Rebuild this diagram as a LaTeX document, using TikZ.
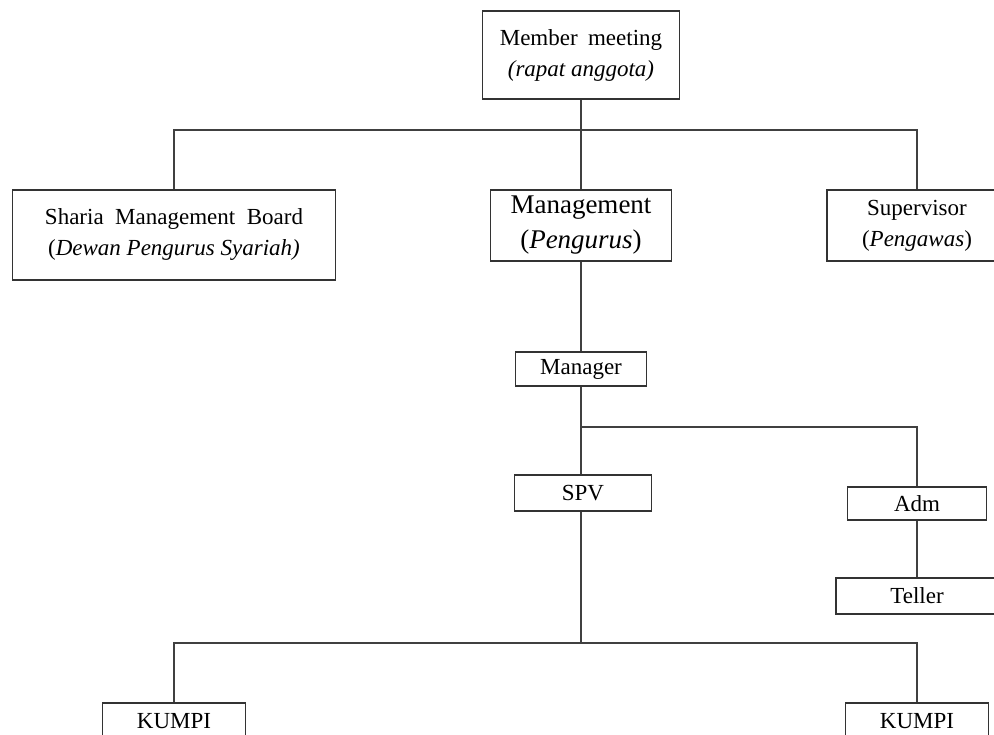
\documentclass[tikz,border=0pt]{standalone}
\usepackage{fontspec}
\setmainfont{Liberation Serif}

\begin{document}
\begin{tikzpicture}[
	x=1pt, y=-1pt,
	line width=1.1pt, draw=black!75,
	box/.style = {
		shape=rectangle, draw=black!80,
		align=center, inner sep=0pt,
		font=\fontsize{23}{31}\selectfont},
	bigbox/.style = {box,
		font=\fontsize{27}{35}\selectfont}]
	\useasboundingbox (0,0) rectangle (994,735);
	\clip (0,0) rectangle (994,735);
	% top level
	\node[box, minimum width=197pt, minimum height=88pt] (meeting) at (581,55)
		{Member\hspace{0.45em}meeting\\\textit{(rapat anggota)}};
	\node[box, minimum width=323pt, minimum height=90pt] (sharia) at (174,235)
		{Sharia\hspace{0.5em}Management\hspace{0.5em}Board\\(\textit{Dewan Pengurus Syariah)}};
	\node[bigbox, minimum width=181pt, minimum height=71pt] (mgmt) at (581,225.5)
		{Management\\(\textit{Pengurus})};
	\node[box, minimum width=180pt, minimum height=71pt] (superv) at (917,225.5)
		{Supervisor\\(\textit{Pengawas})};
	% operations
	\node[box, minimum width=131pt, minimum height=34pt] (manager) at (581,369) {Manager};
	\node[box, minimum width=137pt, minimum height=36pt] (spv) at (583,493) {SPV};
	\node[box, minimum width=139pt, minimum height=33pt] (adm) at (917,503.5) {Adm};
	\node[box, minimum width=162pt, minimum height=36pt] (teller) at (917,596) {Teller};
	\node[box, minimum width=143pt, minimum height=36pt] (kumpiA) at (174,721) {KUMPI};
	\node[box, minimum width=143pt, minimum height=36pt] (kumpiB) at (917,721) {KUMPI};
	% bus points
	\coordinate (topbus) at (581,130);
	\coordinate (admbus) at (581,427);
	\coordinate (lowbus) at (581,643);
	% connectors
	\draw (meeting.south) -- (mgmt.north);
	\draw (sharia.north) |- (topbus) -| (superv.north);
	\draw (mgmt.south) -- (manager.north);
	\draw (manager.south) -- (manager.south |- spv.north);
	\draw (admbus) -| (adm.north);
	\draw (adm.south) -- (teller.north);
	\draw (manager.south |- spv.south) -- (lowbus);
	\draw (kumpiA.north) |- (lowbus) -| (kumpiB.north);
\end{tikzpicture}
\end{document}
